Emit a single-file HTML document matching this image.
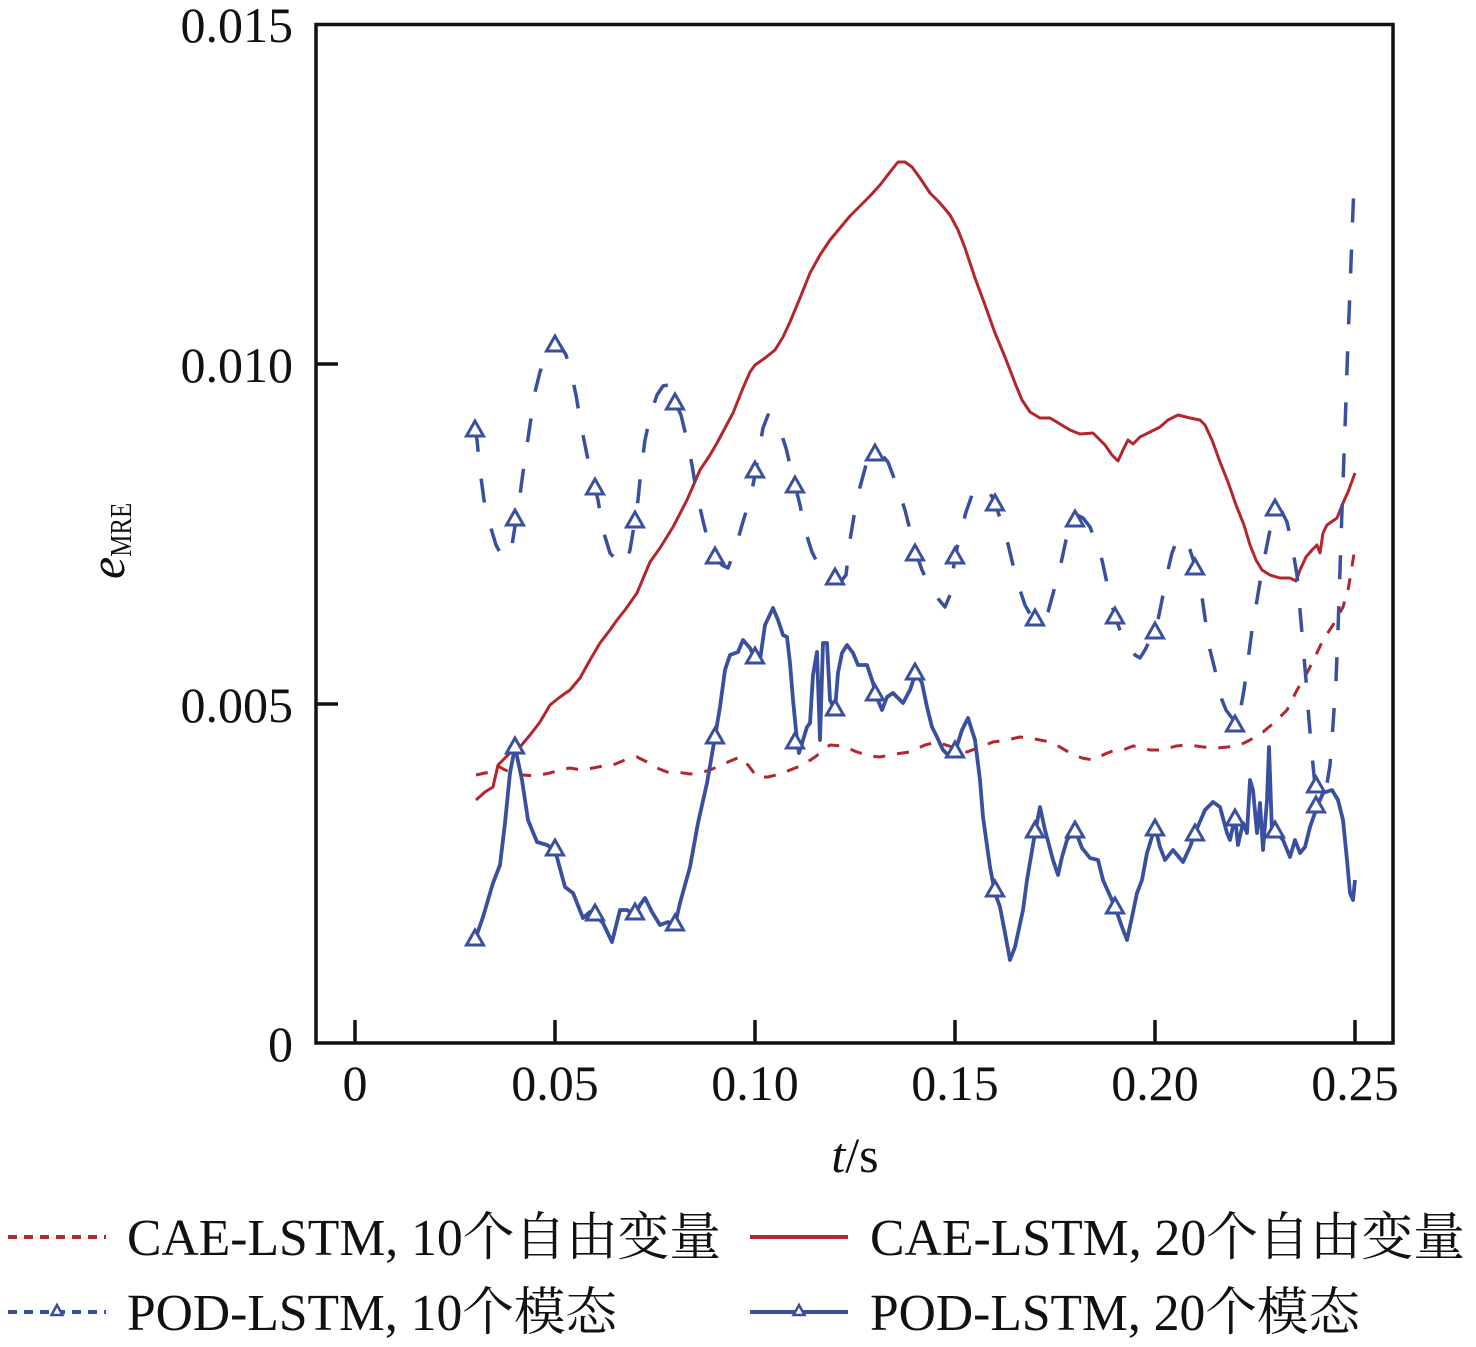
<!DOCTYPE html>
<html>
<head>
<meta charset="utf-8">
<style>
html,body{margin:0;padding:0;background:#fff;}
svg{display:block;}
text{font-family:"Liberation Serif","Noto Serif CJK SC","Noto Sans CJK SC",serif;fill:#111;}
</style>
</head>
<body>
<svg width="1476" height="1347" viewBox="0 0 1476 1347" xmlns="http://www.w3.org/2000/svg">
<defs>
  <path id="tri" d="M0,-9 L-8.5,6 L8.5,6 Z" fill="#fff" stroke="#3a4f9e" stroke-width="3" stroke-linejoin="miter"/>
  <path id="trs" d="M0,-6 L-5.5,4 L5.5,4 Z" fill="#fff" stroke="#3a4f9e" stroke-width="2.5"/>
</defs>

<!-- frame -->
<rect x="316" y="24.5" width="1077" height="1018.5" fill="none" stroke="#111" stroke-width="3.5"/>
<!-- ticks -->
<g stroke="#111" stroke-width="3.5">
  <line x1="316" y1="364" x2="338" y2="364"/>
  <line x1="316" y1="704" x2="338" y2="704"/>
  <line x1="355" y1="1043" x2="355" y2="1020"/>
  <line x1="555" y1="1043" x2="555" y2="1020"/>
  <line x1="755" y1="1043" x2="755" y2="1020"/>
  <line x1="955" y1="1043" x2="955" y2="1020"/>
  <line x1="1155" y1="1043" x2="1155" y2="1020"/>
  <line x1="1355" y1="1043" x2="1355" y2="1020"/>
</g>
<!-- y tick labels -->
<g font-size="50" text-anchor="end">
  <text x="293" y="42">0.015</text>
  <text x="293" y="382">0.010</text>
  <text x="293" y="722">0.005</text>
  <text x="293" y="1061">0</text>
</g>
<!-- x tick labels -->
<g font-size="50" text-anchor="middle">
  <text x="355" y="1100">0</text>
  <text x="555" y="1100">0.05</text>
  <text x="755" y="1100">0.10</text>
  <text x="955" y="1100">0.15</text>
  <text x="1155" y="1100">0.20</text>
  <text x="1355" y="1100">0.25</text>
</g>
<!-- axis titles -->
<text x="855" y="1172" font-size="50" text-anchor="middle"><tspan font-style="italic">t</tspan>/s</text>
<text transform="translate(124,579) rotate(-90)" font-size="50"><tspan font-style="italic">e</tspan><tspan font-size="31" dy="7" textLength="54" lengthAdjust="spacingAndGlyphs">MRE</tspan></text>

<!-- CAE-LSTM 10 (red dashed) -->
<polyline fill="none" stroke="#b3262d" stroke-width="3" stroke-dasharray="12 12" stroke-linejoin="round"
points="476,775 485,773 493,772 498,766 505,770 515,773 523,775 535,776 550,773 560,770 570,768 582,770 593,768 603,766 613,765 625,760 637,757 647,762 657,768 667,772 677,772 690,774 700,773 710,770 717,767 728,762 740,757 748,765 757,777 768,777 780,774 790,770 803,765 815,757 830,745 843,746 857,752 870,756 880,757 895,754 910,752 925,745 937,742 952,747 967,752 980,747 993,742 1007,740 1020,737 1035,739 1050,742 1060,747 1070,753 1082,758 1093,760 1105,754 1115,750 1123,750 1133,746 1140,747 1150,750 1163,750 1176,746 1190,745 1203,747 1217,748 1228,747 1240,745 1250,740 1263,732 1275,722 1287,710 1297,690 1307,673 1315,657 1323,640 1333,625 1343,607 1348,590 1351,573 1355,547"/>

<!-- CAE-LSTM 20 (red solid) -->
<polyline fill="none" stroke="#b3262d" stroke-width="3" stroke-linejoin="round"
points="476,800 485,792 493,787 498,765 505,758 515,748 520,747 530,735 540,722 550,705 560,697 570,690 580,678 590,660 600,643 610,630 617,620 625,610 637,593 650,562 660,548 673,527 687,500 700,470 710,455 717,443 725,428 733,413 743,388 750,372 755,365 765,358 775,350 783,337 790,322 800,298 810,273 820,255 830,240 840,228 850,216 860,206 870,196 880,185 890,172 898,162 905,162 912,167 920,178 930,193 940,203 950,215 958,230 965,248 975,278 985,305 995,333 1005,357 1015,383 1022,400 1030,412 1040,418 1050,418 1060,424 1070,430 1080,434 1093,433 1105,445 1112,455 1118,461 1123,450 1128,440 1133,444 1140,437 1150,432 1160,427 1168,420 1178,415 1190,418 1200,420 1205,425 1212,440 1220,462 1228,482 1236,505 1244,525 1250,545 1256,560 1262,570 1270,575 1280,578 1290,578 1296,581 1300,570 1306,557 1312,550 1317,545 1320,553 1323,533 1327,525 1337,518 1343,503 1348,492 1355,473"/>

<!-- POD-LSTM 10 (blue dashed) -->
<polyline fill="none" stroke="#3a4f9e" stroke-width="3.5" stroke-dasharray="24 27" stroke-linejoin="round"
points="475,428 477,440 480,470 484,500 490,525 496,545 502,556 507,558 512,545 516,520 520,495 524,465 530,425 535,392 540,372 546,355 551,345 555,343 560,345 566,355 571,372 576,395 581,425 587,455 592,478 595,488 598,500 603,530 610,553 618,562 625,565 630,550 635,520 638,500 641,470 645,440 651,413 657,395 663,386 668,385 675,402 681,415 687,440 692,465 697,495 704,525 710,548 715,557 722,565 728,568 735,550 742,525 748,505 753,485 756,470 759,450 763,428 768,415 774,418 780,430 786,448 790,465 795,485 800,505 805,530 812,552 820,568 828,575 835,577 842,580 846,575 850,540 855,510 860,487 866,465 872,453 876,452 882,455 888,462 894,478 900,495 905,510 910,530 916,553 922,570 928,583 935,595 945,607 950,595 955,557 960,535 966,512 972,495 978,487 985,487 990,493 995,503 1000,518 1007,540 1013,565 1020,590 1025,605 1030,614 1037,620 1043,622 1048,612 1054,590 1060,568 1066,540 1072,522 1077,515 1083,518 1090,527 1097,545 1102,560 1108,588 1115,617 1120,630 1127,642 1135,655 1140,658 1145,650 1150,640 1156,630 1162,600 1168,570 1172,553 1177,540 1183,537 1190,550 1196,568 1201,590 1206,625 1210,650 1215,670 1220,695 1226,710 1232,718 1236,725 1240,712 1244,690 1248,660 1252,630 1257,600 1262,570 1267,545 1272,520 1276,508 1282,512 1287,522 1292,545 1297,575 1300,610 1303,645 1306,680 1309,720 1312,755 1315,785 1320,795 1326,790 1330,765 1333,725 1336,680 1338,630 1340,570 1342,510 1344,455 1346,400 1348,340 1350,290 1352,235 1354,185"/>

<!-- POD-LSTM 20 (blue solid) -->
<polyline fill="none" stroke="#3a4f9e" stroke-width="3.8" stroke-linejoin="round"
points="475,940 483,917 493,883 500,865 505,823 510,773 515,747 522,780 528,820 537,842 547,845 555,850 565,887 573,893 583,918 590,912 595,915 603,923 612,942 620,910 627,910 635,915 640,905 645,898 652,912 660,925 668,922 675,925 680,903 690,867 698,823 707,783 715,737 720,707 725,670 730,655 738,652 743,640 750,648 755,658 760,660 765,625 773,608 778,620 783,635 787,637 790,663 793,700 797,740 799,753 803,740 807,727 810,723 813,675 817,652 820,740 823,643 827,643 830,700 835,710 838,673 842,653 847,645 853,653 858,665 867,665 873,683 877,698 882,710 887,697 893,693 903,703 910,690 916,672 922,683 927,707 932,727 937,737 943,750 948,755 955,752 962,730 968,718 975,740 980,780 983,817 990,867 995,893 1000,907 1005,933 1010,960 1015,947 1023,910 1027,880 1035,833 1040,807 1045,830 1053,860 1058,875 1062,857 1067,840 1075,830 1082,848 1090,858 1098,860 1103,880 1115,907 1122,927 1127,940 1132,917 1137,893 1142,880 1147,853 1155,827 1160,847 1165,860 1173,850 1183,862 1190,847 1195,833 1205,810 1213,802 1220,807 1227,833 1230,840 1235,817 1238,845 1243,823 1247,833 1250,780 1253,790 1257,833 1260,803 1263,850 1267,800 1269,747 1272,833 1277,833 1283,840 1290,857 1295,840 1300,853 1305,847 1310,827 1317,807 1323,793 1332,790 1338,800 1343,820 1347,860 1350,893 1353,900 1355,880"/>

<!-- markers POD-LSTM 10 -->
<g>
<use href="#tri" x="475" y="430"/><use href="#tri" x="515" y="519"/><use href="#tri" x="555" y="345"/><use href="#tri" x="595" y="488"/><use href="#tri" x="635" y="521"/><use href="#tri" x="675" y="403"/><use href="#tri" x="715" y="557"/><use href="#tri" x="755" y="471"/><use href="#tri" x="795" y="486"/><use href="#tri" x="835" y="578"/><use href="#tri" x="875" y="454"/><use href="#tri" x="915" y="554"/><use href="#tri" x="955" y="557"/><use href="#tri" x="995" y="504"/><use href="#tri" x="1035" y="619"/><use href="#tri" x="1075" y="520"/><use href="#tri" x="1115" y="617"/><use href="#tri" x="1155" y="632"/><use href="#tri" x="1195" y="568"/><use href="#tri" x="1235" y="725"/><use href="#tri" x="1275" y="509"/><use href="#tri" x="1316" y="786"/>
</g>
<!-- markers POD-LSTM 20 -->
<g>
<use href="#tri" x="475" y="939"/><use href="#tri" x="515" y="747"/><use href="#tri" x="555" y="849"/><use href="#tri" x="595" y="914"/><use href="#tri" x="635" y="913"/><use href="#tri" x="675" y="924"/><use href="#tri" x="715" y="737"/><use href="#tri" x="755" y="657"/><use href="#tri" x="795" y="742"/><use href="#tri" x="835" y="709"/><use href="#tri" x="875" y="694"/><use href="#tri" x="915" y="673"/><use href="#tri" x="955" y="751"/><use href="#tri" x="995" y="890"/><use href="#tri" x="1035" y="831"/><use href="#tri" x="1075" y="831"/><use href="#tri" x="1115" y="907"/><use href="#tri" x="1155" y="829"/><use href="#tri" x="1195" y="834"/><use href="#tri" x="1235" y="819"/><use href="#tri" x="1275" y="831"/><use href="#tri" x="1316" y="806"/>
</g>

<!-- legend -->
<line x1="8" y1="1237" x2="106" y2="1237" stroke="#b3262d" stroke-width="4" stroke-dasharray="9 7"/>
<text x="127" y="1255" font-size="52" textLength="594" lengthAdjust="spacingAndGlyphs">CAE-LSTM, 10个自由变量</text>
<line x1="750" y1="1237" x2="848" y2="1237" stroke="#b3262d" stroke-width="4"/>
<text x="870" y="1255" font-size="52" textLength="595" lengthAdjust="spacingAndGlyphs">CAE-LSTM, 20个自由变量</text>

<line x1="8" y1="1312" x2="106" y2="1312" stroke="#3a4f9e" stroke-width="4" stroke-dasharray="9 7"/>
<use href="#trs" x="57" y="1311"/>
<text x="127" y="1330" font-size="52" textLength="490" lengthAdjust="spacingAndGlyphs">POD-LSTM, 10个模态</text>
<line x1="750" y1="1312" x2="848" y2="1312" stroke="#3a4f9e" stroke-width="4"/>
<use href="#trs" x="799" y="1311"/>
<text x="870" y="1330" font-size="52" textLength="490" lengthAdjust="spacingAndGlyphs">POD-LSTM, 20个模态</text>
</svg>
</body>
</html>
